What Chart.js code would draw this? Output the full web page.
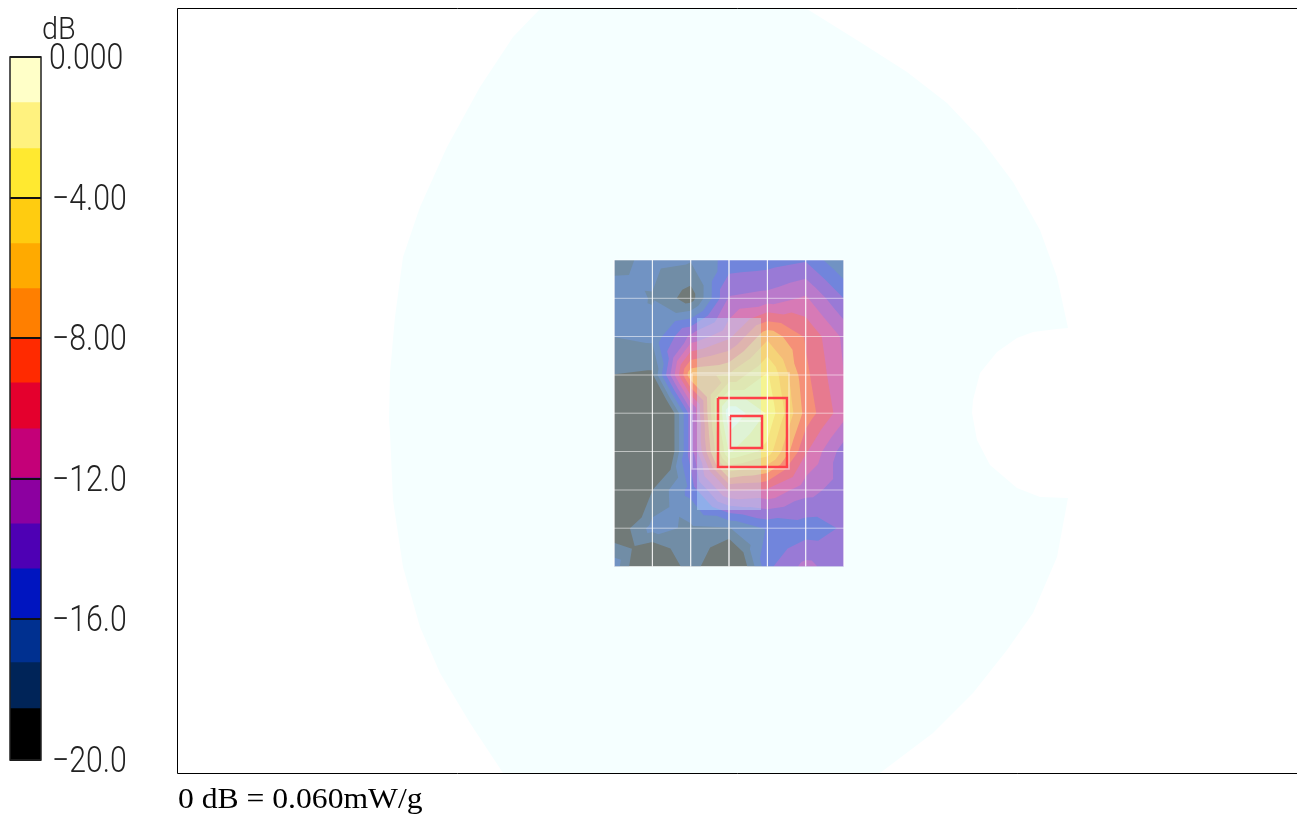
<!DOCTYPE html>
<html>
<head>
<meta charset="utf-8">
<title>SAR scan</title>
<script src="https://cdn.jsdelivr.net/npm/chart.js@4"></script>
<style>
  html, body { margin: 0; padding: 0; background: #fff; overflow: hidden; }
  canvas { position: absolute; left: 0; top: 0; }
  #unit { position: absolute; left: 42px; top: 9px; font: 300 32px Roboto, sans-serif; color: #222; transform: scaleX(0.9); transform-origin: left top; }
  #note { position: absolute; left: 178px; top: 783px; font: 28.5px "Liberation Serif", serif; color: #000; white-space: nowrap; transform: scaleX(1.11); transform-origin: left top; }
</style>
</head>
<body>
<canvas id="mapChart" width="1297" height="816" style="width:1297px;height:816px"></canvas>
<canvas id="barChart" width="178" height="816" style="width:178px;height:816px"></canvas>
<div id="unit">dB</div>
<div id="note">0 dB = 0.060mW/g</div>
<script>
// colour bar
var bandEdges = [0, -1.33, -2.67, -4, -5.33, -6.67, -8, -9.33, -10.67, -12, -13.33, -14.67, -16, -17.33, -18.67, -20];
var barEdges = [0, -1.28, -2.59, -3.98, -5.29, -6.57, -7.97, -9.25, -10.56, -11.95, -13.26, -14.54, -15.96, -17.21, -18.52, -20];
var bandColors = ['#ffffc8', '#fff27f', '#ffe930', '#ffcc10', '#ffaa00', '#ff7f00', '#ff2a00', '#e4002d',
                  '#c40078', '#8c00a0', '#4e00b4', '#0015c0', '#003090', '#002458', '#000000'];
var tickValues = [0, -4, -8, -12, -16, -20];
var tickLabels = ['0.000', '\u22124.00', '\u22128.00', '\u221212.0', '\u221216.0', '\u221220.0'];

// scan positions and dB read at each node
var xNodes = [436, 474.4, 512.7, 551, 589.4, 627.7, 666];
var yNodes = [251, 289.3, 327.5, 366, 404.2, 442.5, 481, 519.2, 557.5];
var row0 = [-17.7, -17, -17.2, -15.5, -15.3, -14.8, -17.4];
var row1 = [-16.8, -17.4, -19.4, -13.2, -12.8, -11.8, -14.7];
var row2 = [-17.3, -17, -13, -11, -7, -9.5, -12.3];
var row3 = [-18.7, -18.9, -7, -6.5, -3.8, -9, -12];
var row4 = [-25, -25, -14, -0.2, -2.8, -8.5, -11.5];
var row5 = [-25, -25, -14, -2.5, -4.5, -10.5, -14];
var row6 = [-25, -18.7, -15.5, -10.5, -10.8, -12.8, -14];
var row7 = [-20, -16.8, -17.6, -17.4, -15.8, -15.4, -14.5];
var row8 = [-16.5, -22, -17.5, -22, -15, -12.9, -14.3];
var nodeRows = [row0, row1, row2, row3, row4, row5, row6, row7, row8];

// phantom outline
var outlineX = [362, 335, 302, 269, 242, 225, 217, 212, 211, 212, 215, 225, 242, 262, 292, 325, 702, 755, 795, 829, 855, 879, 890, 862, 839, 812, 799, 794, 795, 802, 819, 839, 855, 879, 890, 879, 862, 835, 802, 769, 729, 682, 629];
var outlineY = [0, 28, 78, 138, 198, 248, 308, 364, 411, 424, 491, 558, 618, 664, 714, 764, 764, 724, 684, 641, 604, 548, 489, 488, 479, 456, 431, 404, 391, 364, 343, 329, 323, 320, 319, 268, 221, 173, 129, 94, 63, 33, 0];

// scan boxes
var zoomBox = [514, 611, 364, 460];
var outerBox = [540, 609, 389, 458];
var innerBox = [552, 584, 407, 439];
var midLine = [514, 583, 412];
var tintBox = [519, 583, 309, 501];

var paper = [245, 255, 255];
var veil = [235, 255, 250];

function mixColor(hex) {
  var r = parseInt(hex.substr(1, 2), 16), g = parseInt(hex.substr(3, 2), 16), b = parseInt(hex.substr(5, 2), 16);
  var k = 0.48;
  return 'rgb(' + Math.round(r * (1 - k) + veil[0] * k) + ',' + Math.round(g * (1 - k) + veil[1] * k) + ',' + Math.round(b * (1 - k) + veil[2] * k) + ')';
}

// part of a triangle at or above a level
function clipAbove(tri, level) {
  var out = [];
  for (var i = 0; i < tri.length; i++) {
    var a = tri[i], b = tri[(i + 1) % tri.length];
    if (a.v >= level) out.push(a);
    if ((a.v >= level) !== (b.v >= level)) {
      var t = (level - a.v) / (b.v - a.v);
      out.push({ x: a.x + t * (b.x - a.x), y: a.y + t * (b.y - a.y), v: level });
    }
  }
  return out;
}

function cellTriangles() {
  var tris = [];
  for (var j = 0; j < yNodes.length - 1; j++) {
    for (var i = 0; i < xNodes.length - 1; i++) {
      var c = [
        { x: xNodes[i], y: yNodes[j], v: nodeRows[j][i] },
        { x: xNodes[i + 1], y: yNodes[j], v: nodeRows[j][i + 1] },
        { x: xNodes[i + 1], y: yNodes[j + 1], v: nodeRows[j + 1][i + 1] },
        { x: xNodes[i], y: yNodes[j + 1], v: nodeRows[j + 1][i] }
      ];
      var m = { x: (c[0].x + c[1].x) / 2, y: (c[0].y + c[2].y) / 2, v: (c[0].v + c[1].v + c[2].v + c[3].v) / 4 };
      for (var k = 0; k < 4; k++) tris.push([c[k], c[(k + 1) % 4], m]);
    }
  }
  return tris;
}

var mapPlugin = {
  id: 'mapPlugin',
  beforeDatasetsDraw: function (chart) {
    var ctx = chart.ctx, sx = chart.scales.x, sy = chart.scales.y, area = chart.chartArea;
    ctx.save();
    ctx.beginPath();
    ctx.rect(area.left, area.top, area.right - area.left, area.bottom - area.top);
    ctx.clip();
    // phantom
    ctx.fillStyle = 'rgb(' + paper.join(',') + ')';
    ctx.beginPath();
    outlineX.forEach(function (x, i) {
      ctx.lineTo(sx.getPixelForValue(x), sy.getPixelForValue(outlineY[i]));
    });
    ctx.closePath();
    ctx.fill();
    // contour bands, lowest first, one path per band so triangles leave no seams
    var tris = cellTriangles();
    for (var b = bandColors.length - 1; b >= 0; b--) {
      ctx.fillStyle = mixColor(bandColors[b]);
      ctx.beginPath();
      tris.forEach(function (tri) {
        var poly = clipAbove(tri, b === bandColors.length - 1 ? -99 : bandEdges[b + 1]);
        if (poly.length < 3) return;
        poly.forEach(function (p, n) {
          if (n === 0) ctx.moveTo(sx.getPixelForValue(p.x), sy.getPixelForValue(p.y));
          else ctx.lineTo(sx.getPixelForValue(p.x), sy.getPixelForValue(p.y));
        });
        ctx.closePath();
      });
      ctx.fill();
    }
    // tinted zoom scan area
    ctx.fillStyle = 'rgba(190,235,255,0.4)';
    var tx = sx.getPixelForValue(tintBox[0]), ty = sy.getPixelForValue(tintBox[2]);
    ctx.fillRect(tx, ty, sx.getPixelForValue(tintBox[1]) - tx, sy.getPixelForValue(tintBox[3]) - ty);
    ctx.restore();
  },
  afterDraw: function (chart) {
    var ctx = chart.ctx, a = chart.chartArea;
    ctx.save();
    ctx.strokeStyle = '#000';
    ctx.lineWidth = 1;
    ctx.beginPath();
    ctx.moveTo(a.right, a.top - 0.5);
    ctx.lineTo(a.left - 0.5, a.top - 0.5);
    ctx.lineTo(a.left - 0.5, a.bottom + 0.5);
    ctx.lineTo(a.right, a.bottom + 0.5);
    ctx.stroke();
    ctx.restore();
  }
};

function lineSet(points, color, width) {
  return { data: points, showLine: true, pointRadius: 0, borderColor: color, borderWidth: width, fill: false, tension: 0 };
}
function boxPoints(box) {
  return [{ x: box[0], y: box[2] }, { x: box[1], y: box[2] }, { x: box[1], y: box[3] }, { x: box[0], y: box[3] }, { x: box[0], y: box[2] }];
}

var mapSets = [];
xNodes.forEach(function (x) {
  mapSets.push(lineSet([{ x: x, y: yNodes[0] }, { x: x, y: yNodes[8] }], 'rgba(255,255,255,0.55)', 1));
});
yNodes.forEach(function (y) {
  mapSets.push(lineSet([{ x: xNodes[0], y: y }, { x: xNodes[6], y: y }], 'rgba(255,255,255,0.55)', 1));
});
mapSets.push(lineSet(boxPoints(zoomBox), 'rgba(255,255,255,0.45)', 1.5));
mapSets.push(lineSet([{ x: midLine[0], y: midLine[2] }, { x: midLine[1], y: midLine[2] }], 'rgba(255,255,255,0.85)', 1));
mapSets.push(lineSet(boxPoints(outerBox), '#ff4048', 2.5));
mapSets.push(lineSet(boxPoints(innerBox), '#ff4048', 2.5));

new Chart(document.getElementById('mapChart'), {
  type: 'scatter',
  data: { datasets: mapSets },
  plugins: [mapPlugin],
  options: {
    responsive: false,
    animation: false,
    layout: { padding: { left: 178, top: 9, right: 0, bottom: 43 } },
    plugins: { legend: { display: false }, tooltip: { enabled: false }, title: { display: false } },
    scales: {
      x: { display: false, min: 0, max: 1119 },
      y: { display: false, min: 0, max: 764, reverse: true }
    }
  }
});

var barSets = bandColors.map(function (c, i) {
  return { data: [[barEdges[i + 1], barEdges[i]]], backgroundColor: c, borderWidth: 0, grouped: false, barPercentage: 1, categoryPercentage: 1 };
});

new Chart(document.getElementById('barChart'), {
  type: 'bar',
  data: { labels: ['dB'], datasets: barSets },
  plugins: [{
    id: 'barFrame',
    afterDraw: function (chart) {
      var ctx = chart.ctx, a = chart.chartArea, sy = chart.scales.y;
      ctx.save();
      ctx.strokeStyle = '#222';
      ctx.lineWidth = 1.5;
      ctx.strokeRect(a.left, a.top, a.right - a.left, a.bottom - a.top);
      // narrow tick labels
      ctx.fillStyle = '#222';
      ctx.font = '300 36px Roboto, sans-serif';
      ctx.textBaseline = 'middle';
      tickValues.forEach(function (v, i) {
        ctx.save();
        ctx.translate(i === 0 ? 49 : 52, sy.getPixelForValue(v) + 3);
        ctx.scale(0.84, 1);
        ctx.fillText(tickLabels[i], 0, 0);
        ctx.restore();
      });
      ctx.restore();
    }
  }],
  options: {
    responsive: false,
    animation: false,
    layout: { padding: { left: 10, top: 57, right: 0, bottom: 56 } },
    plugins: { legend: { display: false }, tooltip: { enabled: false } },
    scales: {
      x: { display: false },
      y: {
        position: 'right',
        min: -20,
        max: 0,
        afterFit: function (scale) { scale.width = 137; },
        afterBuildTicks: function (scale) { scale.ticks = tickValues.map(function (v) { return { value: v }; }); },
        border: { display: false },
        grid: { color: '#111', lineWidth: 2, drawTicks: false, z: 1 },
        ticks: { display: false }
      }
    }
  }
});
</script>
</body>
</html>
